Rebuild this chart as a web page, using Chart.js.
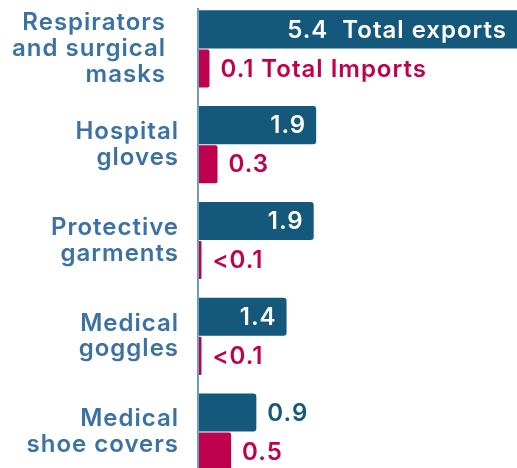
<!DOCTYPE html>
<html>
<head>
<meta charset="utf-8">
<script src="https://cdn.jsdelivr.net/npm/chart.js@4"></script>
<style>
  html, body { margin: 0; padding: 0; background: #fff; overflow: hidden; }
  canvas { display: block; }
</style>
</head>
<body>
<canvas id="myBarChart" width="569" height="480"></canvas>
<script>
// categories (multi-line tick labels)
const categories = [
    ['Respirators', 'and surgical', 'masks'],
    ['Hospital', 'gloves'],
    ['Protective', 'garments'],
    ['Medical', 'goggles'],
    ['Medical', 'shoe covers'],
];
// bar lengths
const exportsValues = [5.4, 1.9, 1.86, 1.42, 0.93];
const importsValues = [0.17, 0.3, 0.04, 0.04, 0.52];
// printed value labels
const exportsText = ['5.4  Total exports', '1.9', '1.9', '1.4', '0.9'];
const importsText = ['0.1 Total Imports', '0.3', '<0.1', '<0.1', '0.5'];

const blue = '#14587c';
const red = '#bf004d';
const labelBlue = '#3b72a3';
const axisBlue = '#6d9cc4';
const FONT = 'Inter, sans-serif';

// wider tracking, closer to the original typeface
const spacing = {
    id: 'spacing',
    beforeDraw(chart) { chart.ctx.letterSpacing = '1px'; },
};

// axis line, starting a little below the top like in the original
const axisLine = {
    id: 'axisLine',
    beforeDatasetsDraw(chart) {
        const ctx = chart.ctx;
        const y = chart.scales.y;
        ctx.save();
        ctx.strokeStyle = axisBlue;
        ctx.lineWidth = 2;
        ctx.beginPath();
        ctx.moveTo(y.right - 1, chart.chartArea.top + 7);
        ctx.lineTo(y.right - 1, chart.chartArea.bottom);
        ctx.stroke();
        ctx.restore();
    }
};

const valueLabels = {
    id: 'valueLabels',
    afterDatasetsDraw(chart) {
        const ctx = chart.ctx;
        ctx.save();
        ctx.font = '600 24px ' + FONT;
        ctx.textBaseline = 'middle';
        chart.data.datasets.forEach((ds, di) => {
            chart.getDatasetMeta(di).data.forEach((bar, i) => {
                const p = bar.getProps(['x', 'y'], true);
                const txt = ds.valueText[i];
                if (di === 0 && ds.data[i] >= 1) {
                    // inside the bar, white
                    ctx.fillStyle = '#fff';
                    ctx.textAlign = 'right';
                    ctx.fillText(txt, Math.min(p.x, 517) - 10, p.y + 1);
                } else {
                    ctx.fillStyle = di === 0 ? blue : red;
                    ctx.textAlign = 'left';
                    ctx.fillText(txt, p.x + 11, p.y + 1);
                }
            });
        });
        ctx.restore();
    }
};

const data1 = {
    labels: categories,
    datasets: [
        {
            label: 'Total exports',
            data: exportsValues,
            valueText: exportsText,
            backgroundColor: blue,
            borderRadius: 3,
            categoryPercentage: 0.816,
            barPercentage: 0.974,
        },
        {
            label: 'Total Imports',
            data: importsValues,
            valueText: importsText,
            backgroundColor: red,
            borderRadius: 2,
            categoryPercentage: 0.816,
            barPercentage: 0.974,
        },
    ],
};

const config = {
    type: 'bar',
    data: data1,
    options: {
        indexAxis: 'y',
        responsive: false,
        animation: false,
        layout: { padding: { top: 1, bottom: 0, left: 0, right: 0 } },
        scales: {
            x: {
                display: false,
                min: 0,
                max: 6,
            },
            y: {
                grid: { display: false, drawTicks: false },
                border: { display: false },
                ticks: {
                    padding: 20,
                    color: labelBlue,
                    font: { family: FONT, size: 24, weight: '600', lineHeight: 1.08 },
                    callback: function (value, index) {
                        const lines = this.getLabelForValue(value);
                        // first label sits a little further left in the original
                        return index === 0 ? lines.map(l => l + '\u2002') : lines;
                    },
                },
                afterFit(scale) {
                    scale.width = 199;
                    scale.paddingTop = 0;
                    scale.paddingBottom = 0;
                },
            },
        },
        plugins: {
            legend: { display: false },
            tooltip: { enabled: false },
        },
    },
    plugins: [spacing, axisLine, valueLabels],
};

var ctx = document.getElementById('myBarChart').getContext('2d');
var myBarChart = new Chart(ctx, config);
</script>
</body>
</html>
